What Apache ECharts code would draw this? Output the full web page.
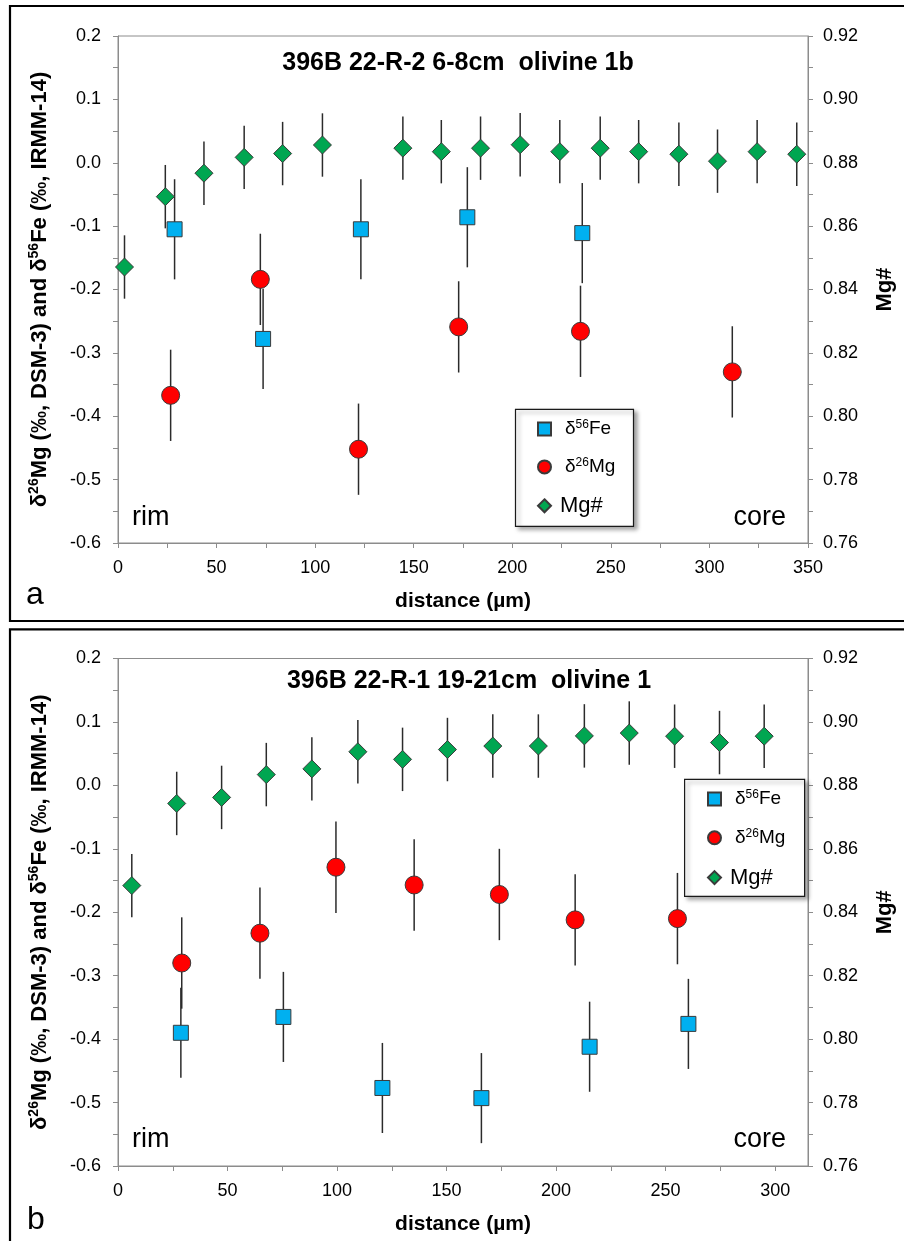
<!DOCTYPE html>
<html>
<head>
<meta charset="utf-8">
<title>Mg and Fe isotope profiles across olivine grains</title>
<script src="https://cdn.jsdelivr.net/npm/echarts@6/dist/echarts.min.js"></script>
<style>
  html, body { margin: 0; padding: 0; background: #fff; }
  #chart { width: 904px; height: 1241px; }
</style>
</head>
<body>
<div id="chart"></div>
<script>
const FONT = '"Liberation Sans", Arial, Helvetica, sans-serif';

// Panel a: 396B 22-R-2 6-8cm, olivine 1b  (distance in µm)
const aFeDist = [28.7, 73.6, 123.2, 177.2, 235.5];
const aFe = [-0.105, -0.278, -0.105, -0.086, -0.111];
const aMgDist = [26.7, 72.2, 122.0, 172.8, 234.6, 311.6];
const aMg = [-0.367, -0.184, -0.452, -0.259, -0.266, -0.330];
const aMgNumDist = [3.3, 24.0, 43.6, 64.0, 83.5, 103.7, 144.5, 164.0, 183.9, 204.0,
                    224.1, 244.6, 264.1, 284.5, 304.1, 324.2, 344.3];
const aMgNum = [0.8471, 0.8693, 0.8767, 0.8817, 0.8829, 0.8856, 0.8846, 0.8835, 0.8846, 0.8857,
                0.8835, 0.8846, 0.8835, 0.8827, 0.8805, 0.8835, 0.8827];

// Panel b: 396B 22-R-1 19-21cm, olivine 1
const bFeDist = [28.7, 75.5, 120.7, 165.9, 215.3, 260.4];
const bFe = [-0.390, -0.365, -0.477, -0.493, -0.412, -0.376];
const bMgDist = [29.1, 64.8, 99.5, 135.2, 174.1, 208.7, 255.4];
const bMg = [-0.280, -0.233, -0.129, -0.157, -0.172, -0.212, -0.210];
const bMgNumDist = [6.3, 26.8, 47.3, 67.7, 88.5, 109.5, 129.9, 150.4, 171.1, 191.9,
                    212.9, 233.4, 254.1, 274.6, 295.0];
const bMgNum = [0.8484, 0.8743, 0.8762, 0.8834, 0.8852, 0.8906, 0.8882, 0.8913, 0.8924, 0.8924,
                0.8956, 0.8965, 0.8955, 0.8935, 0.8955];

// 2-sigma uncertainties
const aFeErr = 0.079, aMgErr = 0.072;
const bFeErr = 0.071, bMgErr = 0.072;
const mgNumErr = 0.010;

// axis ranges
const aDistMax = 350, bDistMax = 315;
const deltaMin = -0.6, deltaMax = 0.2;
const mgNumMin = 0.76, mgNumMax = 0.92;

const NAME_FE = 'δ56Fe', NAME_MG = 'δ26Mg', NAME_MGNUM = 'Mg#';
const COLOR_FE = '#00B0F0', COLOR_MG = '#FF0000', COLOR_MGNUM = '#00A651';
const AXIS_GRAY = '#8c8c8c';

const isMult = (v, step) => Math.abs(v / step - Math.round(v / step)) < 1e-6;

function xAxisFor(gridIndex, max) {
  return {
    type: 'value', gridIndex, min: 0, max, interval: 25,
    name: 'distance (µm)', nameLocation: 'middle', nameGap: 48,
    nameTextStyle: { fontFamily: FONT, fontWeight: 'bold', fontSize: 21, color: '#000' },
    axisLine: { show: true, onZero: false, lineStyle: { color: AXIS_GRAY, width: 1 } },
    axisTick: { show: true, inside: false, length: 5, lineStyle: { color: AXIS_GRAY } },
    splitLine: { show: false },
    axisLabel: {
      margin: 16, color: '#000', fontFamily: FONT, fontSize: 18, showMaxLabel: max % 50 === 0,
      formatter: v => (isMult(v, 50) ? String(Math.round(v)) : '')
    }
  };
}

function deltaAxisFor(gridIndex) {
  return {
    type: 'value', gridIndex, position: 'left', min: deltaMin, max: deltaMax, interval: 0.05,
    name: '{t|δ}{s|26}{t|Mg (‰, DSM-3) and δ}{s|56}{t|Fe (‰, IRMM-14)}',
    nameLocation: 'middle', nameGap: 66,
    nameTextStyle: {
      fontFamily: FONT, fontWeight: 'bold', fontSize: 22, color: '#000',
      rich: {
        t: { fontFamily: FONT, fontWeight: 'bold', fontSize: 22, color: '#000', lineHeight: 25 },
        s: { fontFamily: FONT, fontWeight: 'bold', fontSize: 14, color: '#000', lineHeight: 14, verticalAlign: 'top' }
      }
    },
    axisLine: { show: true, onZero: false, lineStyle: { color: AXIS_GRAY, width: 1 } },
    axisTick: { show: true, inside: false, length: 5, lineStyle: { color: AXIS_GRAY } },
    splitLine: { show: false },
    axisLabel: {
      margin: 17, color: '#000', fontFamily: FONT, fontSize: 18,
      formatter: v => (isMult(v, 0.1) ? (Math.round(v * 10) / 10).toFixed(1) : '')
    }
  };
}

function mgNumAxisFor(gridIndex) {
  return {
    type: 'value', gridIndex, position: 'right', min: mgNumMin, max: mgNumMax, interval: 0.01,
    name: 'Mg#', nameLocation: 'middle', nameGap: 66,
    nameTextStyle: { fontFamily: FONT, fontWeight: 'bold', fontSize: 22, color: '#000' },
    axisLine: { show: true, onZero: false, lineStyle: { color: AXIS_GRAY, width: 1 } },
    axisTick: { show: true, inside: false, length: 5, lineStyle: { color: AXIS_GRAY } },
    splitLine: { show: false },
    axisLabel: {
      margin: 15, color: '#000', fontFamily: FONT, fontSize: 18,
      formatter: v => (isMult(v, 0.02) ? v.toFixed(2) : '')
    }
  };
}

function markers(name, xs, ys, xi, yi, symbol, size, color) {
  return {
    type: 'scatter', name, xAxisIndex: xi, yAxisIndex: yi, symbol, symbolSize: size,
    data: xs.map((x, i) => [x, ys[i]]),
    itemStyle: { color, borderColor: '#3a3a3a', borderWidth: 1, opacity: 1 },
    z: 3, silent: true
  };
}

function errorBars(xs, ys, err, xi, yi) {
  return {
    type: 'custom', xAxisIndex: xi, yAxisIndex: yi, z: 2, silent: true,
    data: xs.map((x, i) => [x, ys[i] - err, ys[i] + err]),
    encode: { x: 0, y: [1, 2] },
    renderItem: (params, api) => {
      const lo = api.coord([api.value(0), api.value(1)]);
      const hi = api.coord([api.value(0), api.value(2)]);
      return {
        type: 'line',
        shape: { x1: lo[0], y1: lo[1], x2: hi[0], y2: hi[1] },
        style: { stroke: '#2b2b2b', lineWidth: 1.5 }
      };
    }
  };
}

const legendRich = {
  d0: { fontFamily: FONT, fontSize: 19, color: '#000', lineHeight: 20, padding: [0, 0, 0, 9] },
  d: { fontFamily: FONT, fontSize: 19, color: '#000', lineHeight: 20 },
  s: { fontFamily: FONT, fontSize: 12, color: '#000', lineHeight: 12, verticalAlign: 'top' },
  m: { fontFamily: FONT, fontSize: 22, color: '#000', lineHeight: 20, padding: [0, 0, 0, 4] }
};

function legendAt(left, top, gap) {
  return {
    orient: 'vertical', left, top, padding: 0, itemGap: gap,
    itemWidth: 13, itemHeight: 13, selectedMode: false,
    data: [
      { name: NAME_FE, icon: 'rect' },
      { name: NAME_MG, icon: 'circle' },
      { name: NAME_MGNUM, icon: 'diamond' }
    ],
    formatter: n => (n === NAME_FE ? '{d0|δ}{s|56}{d|Fe}'
                   : n === NAME_MG ? '{d0|δ}{s|26}{d|Mg}' : '{m|Mg#}'),
    textStyle: { fontFamily: FONT, fontSize: 19, color: '#000', rich: legendRich },
    z: 10
  };
}

function legendBox(x, y, w, h) {
  return {
    type: 'rect', z: 8,
    shape: { x, y, width: w, height: h },
    style: {
      fill: '#fff', stroke: '#1a1a1a', lineWidth: 1.2,
      shadowBlur: 4, shadowOffsetX: 3, shadowOffsetY: 3, shadowColor: 'rgba(0,0,0,0.35)'
    }
  };
}

function label(text, x, y, size, opts) {
  return {
    type: 'text', z: 9, x, y,
    style: Object.assign({
      text, fontFamily: FONT, fontSize: size, fill: '#000',
      textAlign: 'left', textVerticalAlign: 'middle'
    }, opts || {})
  };
}

const option = {
  animation: false,
  backgroundColor: '#fff',
  grid: [
    { left: 118, right: 94, top: 36, height: 507, show: true, borderColor: AXIS_GRAY, borderWidth: 1 },
    { left: 118, right: 94, top: 658.5, height: 507.5, show: true, borderColor: AXIS_GRAY, borderWidth: 1 }
  ],
  xAxis: [xAxisFor(0, aDistMax), xAxisFor(1, bDistMax)],
  yAxis: [deltaAxisFor(0), mgNumAxisFor(0), deltaAxisFor(1), mgNumAxisFor(1)],
  legend: [legendAt(537, 419, 18.4), legendAt(707, 789, 19.3)],
  series: [
    errorBars(aFeDist, aFe, aFeErr, 0, 0),
    errorBars(aMgDist, aMg, aMgErr, 0, 0),
    errorBars(aMgNumDist, aMgNum, mgNumErr, 0, 1),
    markers(NAME_FE, aFeDist, aFe, 0, 0, 'rect', [15, 15], COLOR_FE),
    markers(NAME_MG, aMgDist, aMg, 0, 0, 'circle', [18, 18], COLOR_MG),
    markers(NAME_MGNUM, aMgNumDist, aMgNum, 0, 1, 'diamond', [18, 18], COLOR_MGNUM),

    errorBars(bFeDist, bFe, bFeErr, 1, 2),
    errorBars(bMgDist, bMg, bMgErr, 1, 2),
    errorBars(bMgNumDist, bMgNum, mgNumErr, 1, 3),
    markers(NAME_FE, bFeDist, bFe, 1, 2, 'rect', [15, 15], COLOR_FE),
    markers(NAME_MG, bMgDist, bMg, 1, 2, 'circle', [18, 18], COLOR_MG),
    markers(NAME_MGNUM, bMgNumDist, bMgNum, 1, 3, 'diamond', [18, 18], COLOR_MGNUM)
  ],
  graphic: [
    // panel frames
    { type: 'rect', z: 1, shape: { x: 10, y: 6, width: 920, height: 615 },
      style: { fill: 'none', stroke: '#000', lineWidth: 2.2 } },
    { type: 'rect', z: 1, shape: { x: 10, y: 629.3, width: 920, height: 640 },
      style: { fill: 'none', stroke: '#000', lineWidth: 2.2 } },

    // legend boxes
    legendBox(515.5, 409.3, 118, 117),
    legendBox(684.6, 779.3, 120, 117),

    // panel titles
    label('396B 22-R-2 6-8cm  olivine 1b', 458, 63, 25, { fontWeight: 'bold', textAlign: 'center' }),
    label('396B 22-R-1 19-21cm  olivine 1', 469, 681, 25, { fontWeight: 'bold', textAlign: 'center' }),

    // profile ends
    label('rim', 132, 518, 27),
    label('core', 786, 518, 27, { textAlign: 'right' }),
    label('rim', 132, 1140, 27),
    label('core', 786, 1140, 27, { textAlign: 'right' }),

    // panel letters
    label('a', 26, 595, 32),
    label('b', 27, 1220, 32)
  ]
};

const chart = echarts.init(document.getElementById('chart'), null, { renderer: 'canvas' });
chart.setOption(option);
</script>
</body>
</html>
